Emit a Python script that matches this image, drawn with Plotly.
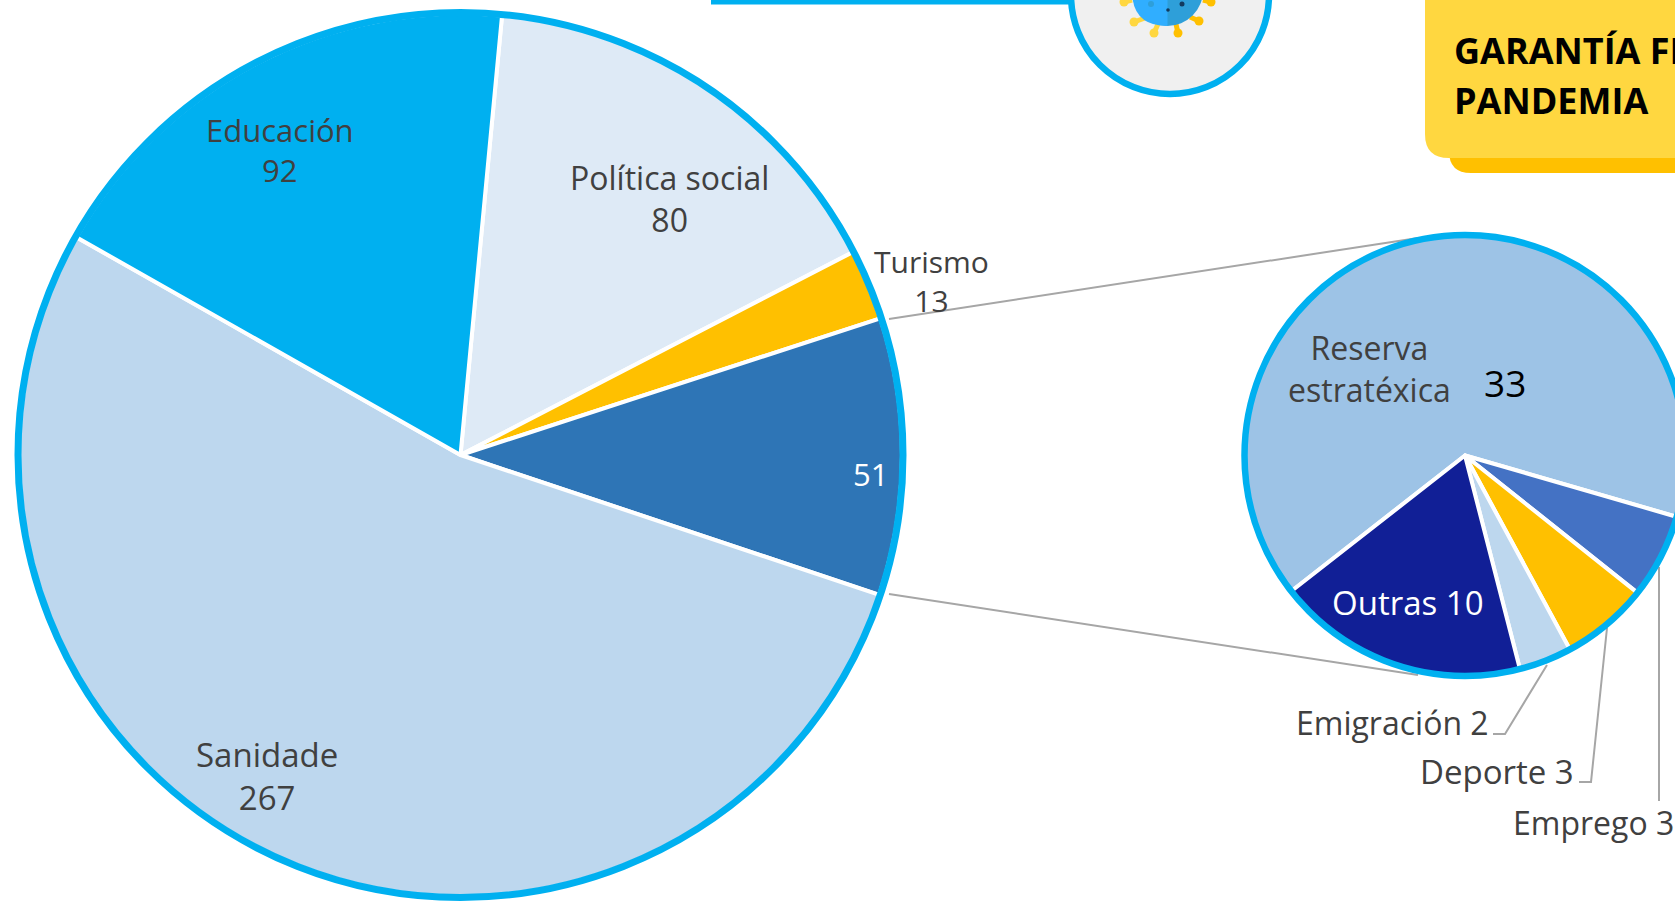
import plotly.graph_objects as go

main_labels = ["Política social", "Turismo", "", "Sanidade", "Educación"]
main_values = [80, 13, 51, 267, 92]
main_colors = ["#DEEAF6", "#FFC000", "#2E75B6", "#BDD7EE", "#00B0F0"]

sub_labels = ["Reserva<br>estratéxica", "Emprego", "Deporte", "Emigración", "Outras"]
sub_values = [33.49, 3.2, 3.3, 2.0, 9.5]
sub_colors = ["#9DC3E6", "#4472C4", "#FFC000", "#BDD7EE", "#111F96"]

banner_lines = ["GARANTÍA FRENTE Á", "PANDEMIA"]

W, H = 1700, 901
RING = "#00B0F0"
GREY = "#A6A6A6"
TXT = "#404040"
FONT = "Open Sans"


def px(x):
    return x / W


def py(y):
    return 1 - y / H


def pie_domain(cx, cy, r):
    return dict(x=[px(cx - r), px(cx + r)], y=[py(cy + r), py(cy - r)])


MAIN = (460.5, 455, 441.5)
SUB = (1465, 455.5, 220.5)

fig = go.Figure()
fig.add_trace(go.Pie(labels=[l or "Grupo" for l in main_labels], values=main_values, sort=False,
                     direction="clockwise", rotation=5.4, domain=pie_domain(*MAIN),
                     marker=dict(colors=main_colors, line=dict(color="white", width=4)),
                     textinfo="none", hoverinfo="label+value", showlegend=False))
fig.add_trace(go.Pie(labels=sub_labels, values=sub_values, sort=False,
                     direction="clockwise", rotation=232, domain=pie_domain(*SUB),
                     marker=dict(colors=sub_colors, line=dict(color="white", width=4)),
                     textinfo="none", hoverinfo="label+value", showlegend=False))

shapes = []


def line(pts, color=GREY, width=2):
    d = "M " + " L ".join(f"{x},{y}" for x, y in pts)
    shapes.append(dict(type="path", xref="x", yref="y", path=d, line=dict(color=color, width=width)))


def circle(cx, cy, r, fill="rgba(0,0,0,0)", color=RING, width=0):
    shapes.append(dict(type="circle", xref="x", yref="y", x0=cx - r, x1=cx + r, y0=cy - r, y1=cy + r,
                       fillcolor=fill, line=dict(color=color, width=width)))


def rrect(x0, y0, x1, y1, r, fill):
    d = (f"M {x0},{y0} L {x1},{y0} L {x1},{y1 - r} Q {x1},{y1} {x1 - r},{y1} L {x0 + r},{y1} "
         f"Q {x0},{y1} {x0},{y1 - r} Z")
    shapes.append(dict(type="path", xref="x", yref="y", path=d, fillcolor=fill, line=dict(width=0)))


# leader lines
line([(889, 319), (1418, 238)])
line([(889, 594), (1418, 675)])
line([(1493, 734), (1505, 734), (1547, 665)])
line([(1579, 782), (1591, 782), (1607, 628)])
line([(1659, 567), (1659, 801)])

# rings
circle(MAIN[0], MAIN[1], MAIN[2] + 1, width=7)
circle(SUB[0], SUB[1], SUB[2], width=6.5)

# top decoration
shapes.append(dict(type="rect", xref="x", yref="y", x0=711, x1=1070, y0=-2, y1=4.5,
                   fillcolor=RING, line=dict(width=0)))
circle(1170, -5, 99, fill="#F0F0F0", width=6.5)
# virus icon
for (x0, y0, x1, y1, c) in [(1145, 18, 1134, 22, "#FFD740"), (1158, 24, 1154, 33, "#FFD740"),
                            (1176, 24, 1178, 33, "#FFC000"), (1190, 17, 1199, 21, "#FFC000"),
                            (1132, 0, 1124, 2, "#FFD740"), (1203, 0, 1211, 2, "#FFC000")]:
    line([(x0, y0), (x1, y1)], color=c, width=5)
    circle(x1, y1, 4.5, fill=c, color=c)
circle(1167.5, -9.5, 35.5, fill="#2E9FD9", color="#2E9FD9")
shapes.append(dict(type="path", xref="x", yref="y", fillcolor="#30AEFF", line=dict(width=0),
                   path="M 1167.5,-45 Q 1132,-45 1132,-9.5 Q 1132,26 1167.5,26 Z"))
circle(1151, 4, 3, fill="#2E9FD9", color="#2E9FD9")
circle(1168, 10, 1.8, fill="#123A5E", color="#123A5E")
circle(1182, 4, 2.5, fill="#123A5E", color="#123A5E")

# banner
rrect(1449, -5, 1720, 173, 22, "#FFC000")
rrect(1425, -5, 1720, 158, 24, "#FFD740")

fig.update_layout(
    width=W, height=H, autosize=False, margin=dict(l=0, r=0, t=0, b=0),
    paper_bgcolor="white", plot_bgcolor="rgba(0,0,0,0)", showlegend=False, shapes=shapes,
    xaxis=dict(range=[0, W], visible=False, fixedrange=True),
    yaxis=dict(range=[H, 0], visible=False, fixedrange=True),
)


def note(x, y, text, size=31, color=TXT, family=FONT, anchor="center", align="center", weight=None):
    fig.add_annotation(x=x, y=y, xref="x", yref="y", text=text, showarrow=False, xanchor=anchor,
                       yanchor="middle", align=align,
                       font=dict(family=family, size=size, color=color, weight=weight))


def num(v):
    return f"{v:.0f}"


note(280, 150, f"{main_labels[4]}<br>{num(main_values[4])}")
note(669, 198, f"{main_labels[0]}<br>{num(main_values[0])}", size=32)
note(931, 281, f"{main_labels[1]}<br>{num(main_values[1])}", size=30)
note(870, 474, num(main_values[2]), color="white")
note(267, 776, f"{main_labels[3]}<br>{num(main_values[3])}", size=33)
note(1369, 368, sub_labels[0], size=32)
note(1505, 382, num(sub_values[0]), size=37, color="black")
note(1408, 602, f"{sub_labels[4]} {num(sub_values[4])}", size=33, color="white")
note(1392, 722, f"{sub_labels[3]} {num(sub_values[3])}", size=32)
note(1497, 771, f"{sub_labels[2]} {num(sub_values[2])}", size=33)
note(1511, 822, f"{sub_labels[1]} {num(sub_values[1])}", size=32, anchor="left")
note(1452, 50, banner_lines[0], size=36, color="black", anchor="left", align="left", weight="bold")
note(1452, 100, banner_lines[1], size=36, color="black", anchor="left", align="left", weight="bold")

fig.write_html("out.html", config=dict(displayModeBar=False),
               post_script="document.body.style.margin='0';document.body.style.overflow='hidden';"
                           "document.documentElement.style.overflow='hidden';")
